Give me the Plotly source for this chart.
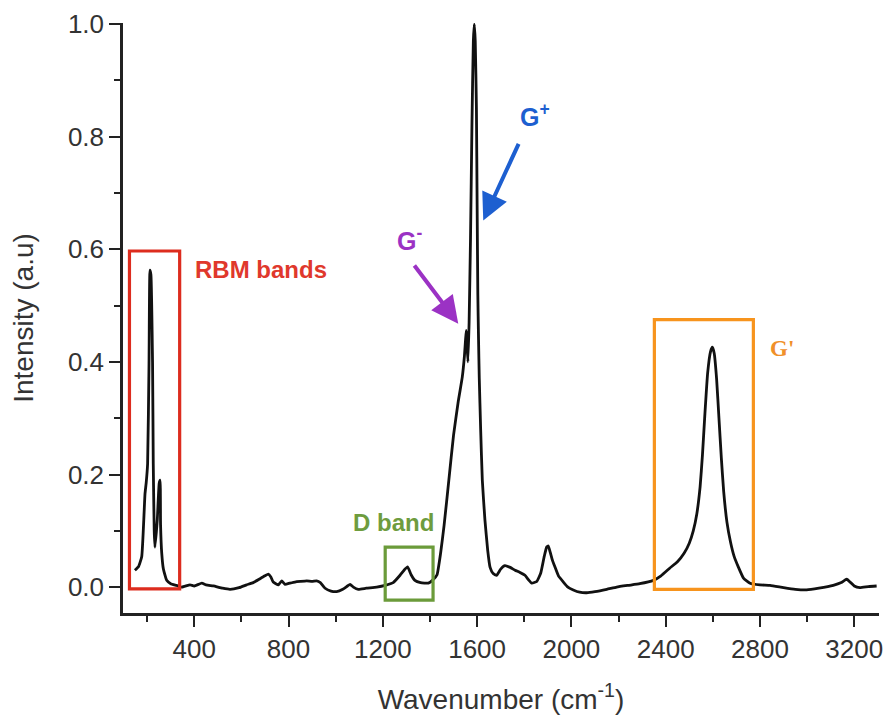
import plotly.graph_objects as go

# Raman spectrum
wavenumber = [148, 163, 177, 187, 191, 196, 202, 208, 212, 216, 223, 226, 230, 233, 243, 251, 255, 257, 262, 269,
              283, 300, 325, 347, 382, 400, 432, 450, 481, 520, 552, 590, 622, 650, 679, 700, 714, 725, 735, 757,
              771, 785, 805, 827, 850, 877, 900, 919, 935, 955, 980, 1004, 1030, 1050, 1061, 1075, 1096, 1130, 1174,
              1210, 1244, 1273, 1290, 1305, 1320, 1336, 1360, 1393, 1415, 1430, 1445, 1460, 1480, 1500, 1520, 1537,
              1546, 1551, 1554, 1557, 1561, 1566, 1572, 1578, 1584, 1588, 1592, 1597, 1600, 1603, 1606, 1609, 1615,
              1622, 1633, 1645, 1655, 1668, 1683, 1700, 1718, 1740, 1761, 1782, 1803, 1818, 1832, 1853, 1870, 1885,
              1895, 1902, 1910, 1920, 1930, 1945, 1966, 1985, 2008, 2035, 2065, 2100, 2150, 2192, 2240, 2290, 2348,
              2380, 2418, 2450, 2478, 2500, 2517, 2532, 2546, 2556, 2566, 2578, 2590, 2598, 2606, 2616, 2626, 2636,
              2646, 2660, 2675, 2690, 2708, 2730, 2758, 2800, 2843, 2900, 2950, 2998, 3050, 3111, 3145, 3168, 3185,
              3200, 3224, 3260, 3295]
intensity = [0.030, 0.036, 0.054, 0.131, 0.166, 0.185, 0.219, 0.397, 0.563, 0.555, 0.397, 0.219, 0.101, 0.071, 0.119,
             0.184, 0.190, 0.110, 0.060, 0.032, 0.012, 0.006, 0.003, 0.000, 0.004, 0.002, 0.007, 0.004, 0.002, -0.002,
             -0.004, -0.001, 0.004, 0.008, 0.015, 0.020, 0.023, 0.018, 0.009, 0.004, 0.011, 0.005, 0.007, 0.009, 0.010,
             0.011, 0.010, 0.011, 0.008, -0.002, -0.007, -0.008, -0.004, 0.002, 0.005, 0.000, -0.004, -0.002, 0.000,
             0.003, 0.008, 0.021, 0.030, 0.036, 0.022, 0.012, 0.008, 0.007, 0.014, 0.022, 0.060, 0.110, 0.190, 0.270,
             0.330, 0.373, 0.410, 0.440, 0.456, 0.430, 0.400, 0.470, 0.620, 0.820, 0.970, 1.000, 0.970, 0.850, 0.680,
             0.520, 0.440, 0.373, 0.280, 0.190, 0.120, 0.065, 0.035, 0.024, 0.021, 0.032, 0.038, 0.035, 0.030, 0.026,
             0.021, 0.013, 0.007, 0.010, 0.025, 0.055, 0.071, 0.073, 0.062, 0.047, 0.036, 0.020, 0.009, 0.000, -0.005,
             -0.009, -0.010, -0.008, -0.004, 0.000, 0.003, 0.006, 0.012, 0.020, 0.034, 0.045, 0.060, 0.078, 0.100,
             0.130, 0.178, 0.235, 0.305, 0.380, 0.418, 0.426, 0.415, 0.370, 0.300, 0.230, 0.170, 0.115, 0.080, 0.055,
             0.036, 0.016, 0.007, 0.004, 0.003, -0.001, -0.004, -0.005, -0.002, 0.003, 0.008, 0.014, 0.008, 0.002,
             -0.001, 0.001, 0.002]

# Highlight boxes
box_names = ["RBM", "D", "G'"]
box_x0 = [125, 1210, 2352]
box_x1 = [338, 1413, 2772]
box_y0 = [-0.003, -0.023, -0.004]
box_y1 = [0.597, 0.071, 0.475]
box_colors = ["#dd2c1e", "#6b9b3a", "#f7941d"]

fig = go.Figure()
fig.add_trace(go.Scatter(x=wavenumber, y=intensity, mode="lines",
                         line=dict(color="#111111", width=2.8, shape="spline", smoothing=0.4),
                         showlegend=False, hoverinfo="skip"))

for x0, x1, y0, y1, c in zip(box_x0, box_x1, box_y0, box_y1, box_colors):
    fig.add_shape(type="rect", xref="x", yref="y", x0=x0, x1=x1, y0=y0, y1=y1,
                  line=dict(color=c, width=3.2), fillcolor="rgba(0,0,0,0)")

# Text labels
fig.add_annotation(x=685, y=0.564, text="<b>RBM bands</b>", showarrow=False,
                   font=dict(family="Liberation Sans", size=24, color="#e0382c"))
fig.add_annotation(x=1247, y=0.115, text="<b>D band</b>", showarrow=False,
                   font=dict(family="Liberation Sans", size=24, color="#6e9c3e"))
fig.add_annotation(x=1773, y=0.838, text="<b>G<sup>+</sup></b>", showarrow=False, xanchor="left",
                   font=dict(family="Liberation Sans", size=25, color="#1d5fd0"))
fig.add_annotation(x=1252, y=0.618, text="<b>G<sup>-</sup></b>", showarrow=False, xanchor="left",
                   font=dict(family="Liberation Sans", size=25, color="#9b32c4"))
fig.add_annotation(x=2834, y=0.424, text="<b>G'</b>", showarrow=False, xanchor="left",
                   font=dict(family="Liberation Serif", size=23, color="#f0902a"))

# Arrows (tip at x,y ; tail at ax,ay)
fig.add_annotation(x=1626, y=0.651, ax=1779, ay=0.790, xref="x", yref="y", axref="x", ayref="y",
                   text="", showarrow=True, arrowhead=2, arrowsize=1.35, arrowwidth=4, arrowcolor="#1d5fd0",
                   standoff=0, startstandoff=0)
fig.add_annotation(x=1520, y=0.468, ax=1329, ay=0.574, xref="x", yref="y", axref="x", ayref="y",
                   text="", showarrow=True, arrowhead=2, arrowsize=1.35, arrowwidth=4, arrowcolor="#9b32c4",
                   standoff=0, startstandoff=0)

tick_font = dict(family="Liberation Sans", size=26, color="#333333")
title_font = dict(family="Liberation Sans", size=28, color="#333333")

fig.update_xaxes(range=[97.6, 3305], showline=True, linewidth=2.5, linecolor="#222222",
                 ticks="outside", ticklen=11, tickwidth=2, tickcolor="#222222",
                 tick0=0, dtick=400, tickfont=tick_font, showgrid=False, zeroline=False,
                 minor=dict(ticks="outside", ticklen=6, tickwidth=2, tickcolor="#222222", dtick=200, tick0=0, showgrid=False),
                 title=dict(text="Wavenumber (cm<sup>-1</sup>)", font=title_font, standoff=27))
fig.update_yaxes(range=[-0.046, 1.002], showline=True, linewidth=2.5, linecolor="#222222",
                 ticks="outside", ticklen=11, tickwidth=2, tickcolor="#222222",
                 tick0=0, dtick=0.2, tickformat=".1f", tickfont=tick_font, showgrid=False, zeroline=False,
                 minor=dict(ticks="outside", ticklen=6, tickwidth=2, tickcolor="#222222", dtick=0.1, tick0=0, showgrid=False),
                 title=dict(text="Intensity (a.u)", font=title_font, standoff=27))

fig.update_layout(width=891, height=722, margin=dict(l=123, r=12, t=23, b=109, autoexpand=False),
                  plot_bgcolor="white", paper_bgcolor="white")

fig.write_html("out.html")
